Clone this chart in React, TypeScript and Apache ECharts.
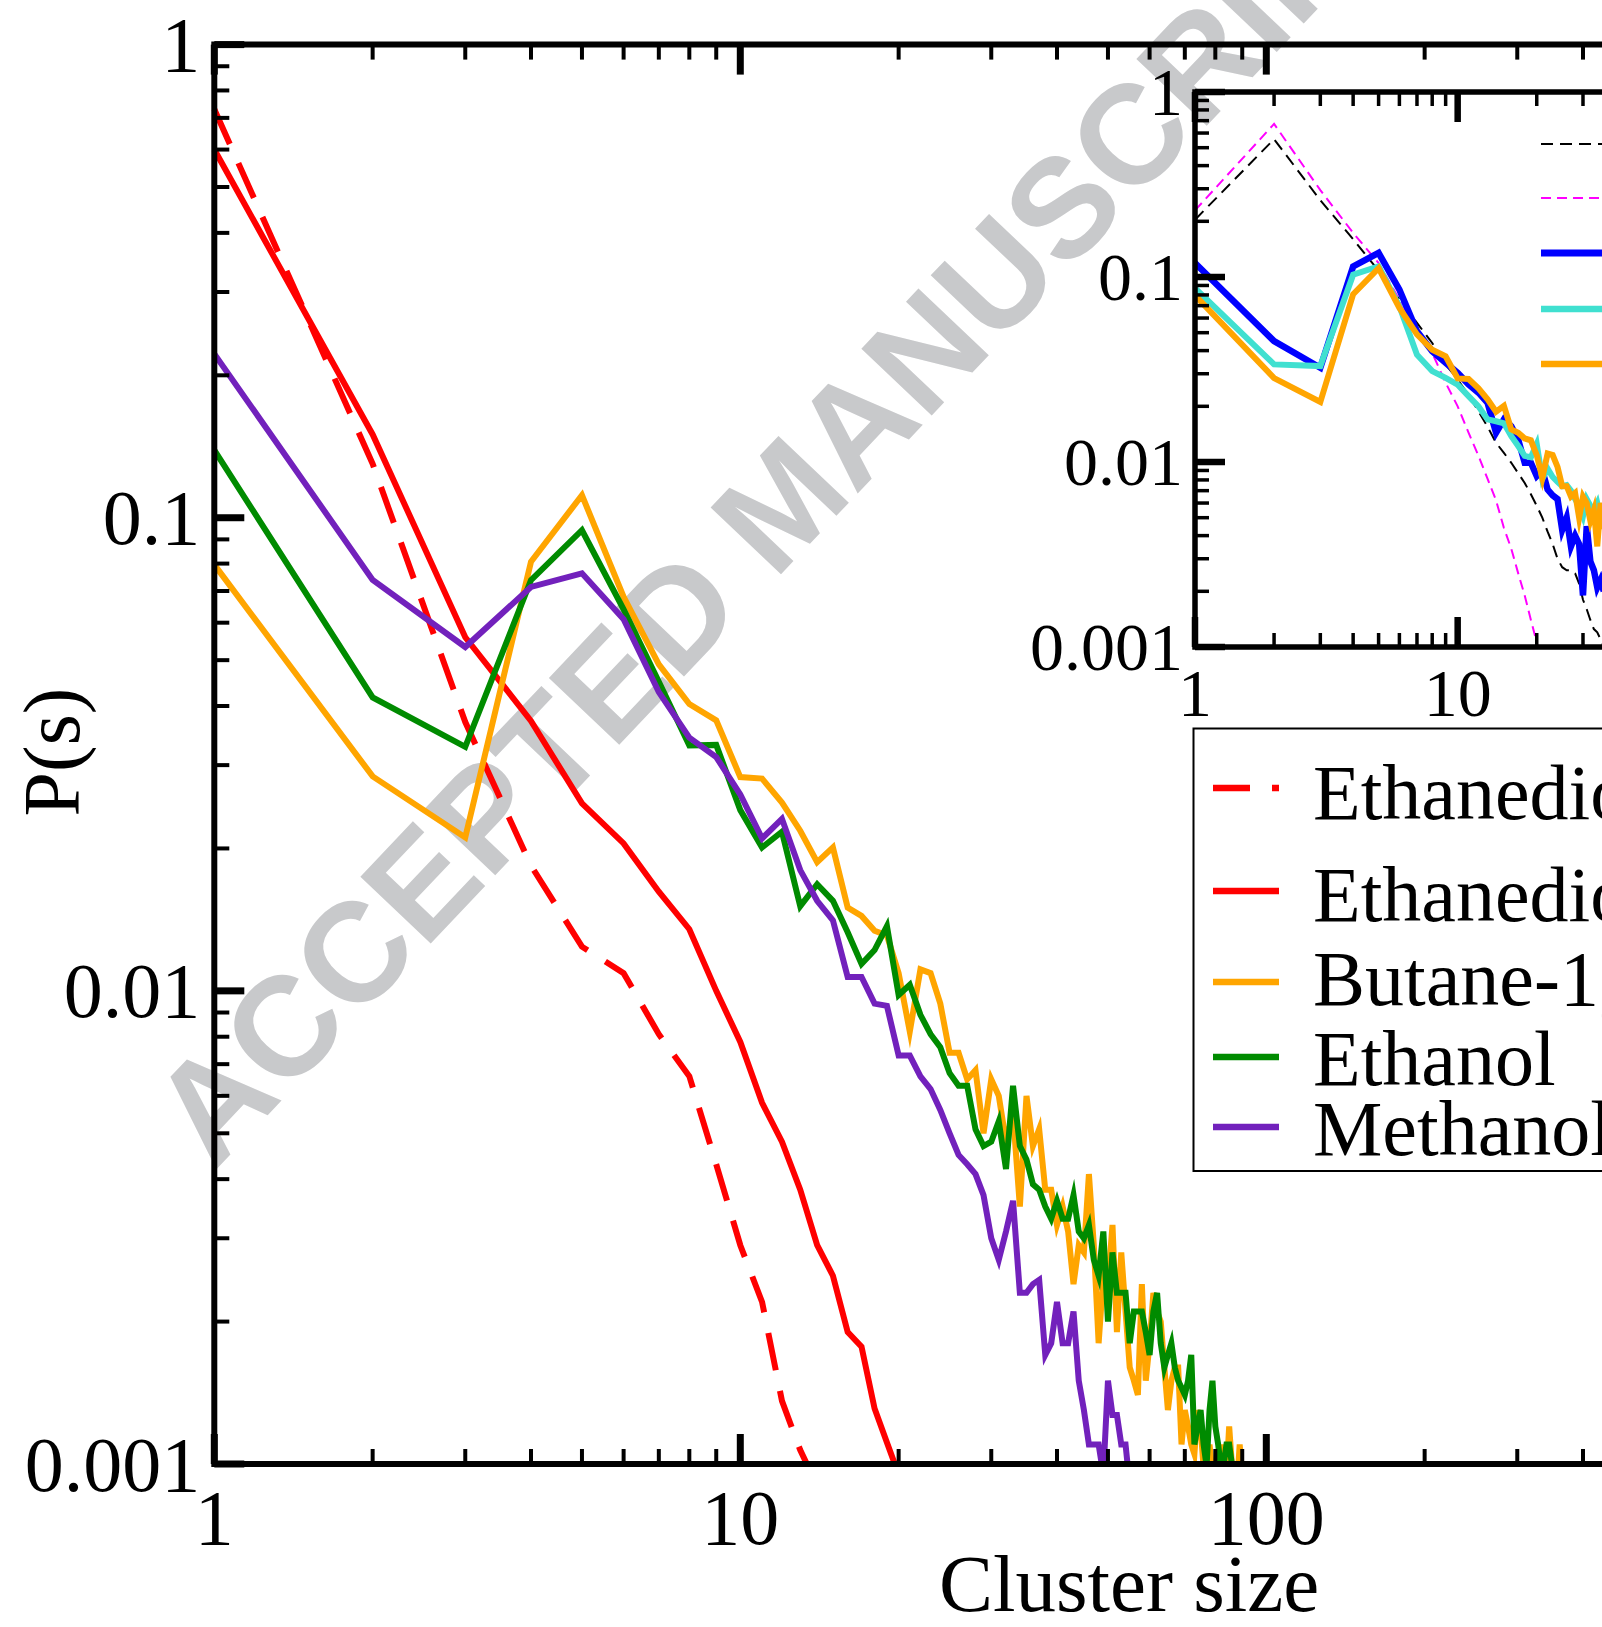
import React, { useEffect, useRef } from 'react';
import * as echarts from 'echarts';

// ---------- data (cluster size n = index + 1) ----------
const ethanediolDashed = [0.73, 0.13, 0.037, 0.0184, 0.0124, 0.0109, 0.0081, 0.0066, 0.0043, 0.0029, 0.0022, 0.00136, 0.00107, 0.0009];
const ethanediolSolid = [0.6, 0.15, 0.0559, 0.0372, 0.0249, 0.0205, 0.0162, 0.0135, 0.01, 0.0078, 0.0058, 0.0048, 0.0038, 0.0029, 0.0025, 0.0019, 0.00177, 0.00131, 0.00111, 0.00095, 0.0008];
const butanediol = [
  0.0796, 0.0284, 0.0211, 0.0807, 0.1116, 0.068, 0.049, 0.0404, 0.0373, 0.0283,
  0.0281, 0.025, 0.0218, 0.0187, 0.0201, 0.015, 0.0144, 0.0134, 0.0131, 0.0109,
  0.0082, 0.0111, 0.0109, 0.0094, 0.0074, 0.0074, 0.0065, 0.0068, 0.005, 0.0065,
  0.006, 0.0048, 0.0055, 0.0035, 0.006, 0.0047, 0.0051, 0.0038, 0.0038, 0.0032,
  0.0035, 0.0031, 0.0024, 0.0029, 0.0028, 0.0041, 0.0029, 0.0018, 0.0025, 0.0024,
  0.0032, 0.0019, 0.0028, 0.0021, 0.0016, 0.0015, 0.0014, 0.0024, 0.0015, 0.0018,
  0.0023, 0.0021, 0.002, 0.0016, 0.0013, 0.0015, 0.0016, 0.0016, 0.0011, 0.0013,
  0.0012, 0.0011, 0.00105, 0.0013, 0.0012, 0.00098, 0.0009, 0.0011, 0.00095, 0.00102,
  0.0009, 0.00085, 0.0011, 0.00095, 0.0012, 0.001, 0.00085, 0.0009, 0.0011, 0.00095, 0.0008,
];
const ethanol = [
  0.139, 0.0417, 0.0328, 0.0738, 0.0941, 0.064, 0.045, 0.033, 0.0331, 0.0241,
  0.0201, 0.0217, 0.0151, 0.0168, 0.0155, 0.0133, 0.0114, 0.0122, 0.0137, 0.0098,
  0.0103, 0.0089, 0.0081, 0.0076, 0.0067, 0.0063, 0.0063, 0.0051, 0.0047, 0.0048,
  0.0053, 0.0042, 0.0063, 0.0047, 0.0044, 0.0039, 0.0038, 0.0035, 0.0033, 0.0036,
  0.0033, 0.0033, 0.0037, 0.0031, 0.003, 0.0032, 0.0027, 0.0025, 0.0031, 0.002,
  0.0028, 0.0023, 0.0023, 0.0023, 0.0018, 0.0021, 0.0021, 0.0021, 0.0019, 0.0017,
  0.0021, 0.0023, 0.0018, 0.0016, 0.0017, 0.0018, 0.0016, 0.0015, 0.00145, 0.0014,
  0.0015, 0.0017, 0.0011, 0.0012, 0.0013, 0.0011, 0.00099, 0.0013, 0.0015, 0.0012,
  0.0011, 0.00098, 0.001, 0.0011, 0.0011, 0.001, 0.0009, 0.00085,
];
const methanol = [
  0.222, 0.0739, 0.0533, 0.0714, 0.0763, 0.061, 0.0428, 0.0343, 0.0312, 0.026,
  0.021, 0.0231, 0.018, 0.0155, 0.0141, 0.0107, 0.0107, 0.0094, 0.0093, 0.0073,
  0.0073, 0.0066, 0.0062, 0.0056, 0.005, 0.0045, 0.0043, 0.0041, 0.0037, 0.003,
  0.0027, 0.0031, 0.0036, 0.0023, 0.0023, 0.0024, 0.00245, 0.0017, 0.0018, 0.0022,
  0.0018, 0.0018, 0.0021, 0.0015, 0.0013, 0.0011, 0.0011, 0.0011, 0.00095, 0.0015,
  0.00127, 0.00127, 0.0011, 0.0011, 0.0009,
];

// inset
const insetBlack = [0.204, 0.556, 0.26, 0.16, 0.108, 0.0755, 0.0565, 0.044, 0.0337, 0.0279, 0.023, 0.0188, 0.0155, 0.0127, 0.0112, 0.0099, 0.0087, 0.0077, 0.0067, 0.0058, 0.005, 0.0042, 0.0036, 0.003, 0.0027, 0.0026, 0.0026, 0.0025, 0.0022, 0.0018, 0.0016, 0.0014, 0.00125, 0.0012, 0.0011, 0.001];
const insetMagenta = [0.229, 0.672, 0.295, 0.173, 0.119, 0.0755, 0.0509, 0.0389, 0.0268, 0.02, 0.0144, 0.0108, 0.0081, 0.0062, 0.0044, 0.0034, 0.0025, 0.0019, 0.0014, 0.00106, 0.0008];
const insetBlue = [0.119, 0.045, 0.0323, 0.114, 0.135, 0.0855, 0.0509, 0.0397, 0.0344, 0.0303, 0.0263, 0.0237, 0.0209, 0.0144, 0.017, 0.0156, 0.0132, 0.0099, 0.0099, 0.0084, 0.009, 0.0071, 0.0066, 0.0063, 0.0043, 0.005, 0.0035, 0.004, 0.0036, 0.0019, 0.0045, 0.0029, 0.0026, 0.0021, 0.0023, 0.002];
const insetTurquoise = [0.087, 0.0337, 0.033, 0.103, 0.114, 0.0695, 0.038, 0.031, 0.0285, 0.0262, 0.0227, 0.02, 0.017, 0.0166, 0.0162, 0.0138, 0.0122, 0.0108, 0.0106, 0.0125, 0.0081, 0.0092, 0.0083, 0.0078, 0.0074, 0.0075, 0.007, 0.0063, 0.0058, 0.0051, 0.0063, 0.0058, 0.0055, 0.006, 0.005, 0.0052];

// ticks
const xMajor = [1, 10, 100, 1000];
const xMinor = [2, 3, 4, 5, 6, 7, 8, 9, 20, 30, 40, 50, 60, 70, 80, 90, 200, 300, 400, 500, 600, 700, 800, 900];
const yMajor = [0.001, 0.01, 0.1, 1];
const yMinor = [0.002, 0.003, 0.004, 0.005, 0.006, 0.007, 0.008, 0.009, 0.02, 0.03, 0.04, 0.05, 0.06, 0.07, 0.08, 0.09, 0.2, 0.3, 0.4, 0.5, 0.6, 0.7, 0.8, 0.9];

const legendLabels = ['Ethanediol', 'Ethanediol', 'Butane-1,4-diol', 'Ethanol', 'Methanol'];
const legendColors = ['#ff0000', '#ff0000', '#ffa500', '#008b00', '#7221bc'];

const FONT = "'Liberation Serif', 'Times New Roman', Times, serif";

const toPairs = (vals: number[]) => vals.map((v, i) => [i + 1, v]);

function tickSeries(gi: number, dir: 'x' | 'y', vals: number[], len: number, lw: number) {
  const xMin = 1, xMax = 1000, yMin = 0.001, yMax = 1;
  return {
    type: 'custom',
    xAxisIndex: gi,
    yAxisIndex: gi,
    silent: true,
    clip: false,
    z: 6,
    data: vals.map((v) => (dir === 'x' ? [v, yMin] : [xMin, v])),
    renderItem: (params: any, api: any) => {
      const v = vals[params.dataIndex];
      const st = { stroke: '#000', lineWidth: lw };
      if (dir === 'x') {
        const b = api.coord([v, yMin]);
        const t = api.coord([v, yMax]);
        return {
          type: 'group',
          children: [
            { type: 'line', shape: { x1: b[0], y1: b[1], x2: b[0], y2: b[1] - len }, style: st },
            { type: 'line', shape: { x1: t[0], y1: t[1], x2: t[0], y2: t[1] + len }, style: st },
          ],
        };
      }
      const l = api.coord([xMin, v]);
      const r = api.coord([xMax, v]);
      return {
        type: 'group',
        children: [
          { type: 'line', shape: { x1: l[0], y1: l[1], x2: l[0] + len, y2: l[1] }, style: st },
          { type: 'line', shape: { x1: r[0], y1: r[1], x2: r[0] - len, y2: r[1] }, style: st },
        ],
      };
    },
  };
}

function lineSeries(gi: number, vals: number[], color: string, width: number, dash?: number[]) {
  return {
    type: 'line',
    xAxisIndex: gi,
    yAxisIndex: gi,
    data: toPairs(vals),
    showSymbol: false,
    symbol: 'none',
    z: 3,
    lineStyle: { color, width, type: dash ? dash : 'solid', join: 'miter', miterLimit: 6, cap: 'butt' },
  };
}

const CHART_W = 2100;
const CHART_H = 1627;

export default function App() {
  const ref = useRef<HTMLDivElement>(null);

  useEffect(() => {
    if (!ref.current) return;
    const chart = echarts.init(ref.current, undefined, { renderer: 'svg' });

    const axisCommon = {
      type: 'log',
      logBase: 10,
      axisLine: { show: false },
      axisTick: { show: false },
      splitLine: { show: false },
    };

    const legendYs = [788, 891, 982, 1057, 1127];
    const legendTextYs = [792, 894, 978, 1058, 1128];

    const graphic: any[] = [
      {
        type: 'text',
        x: 782,
        y: 502,
        rotation: (46.5 * Math.PI) / 180,
        z: -100,
        silent: true,
        style: {
          text: 'ACCEPTED MANUSCRIPT',
          fontSize: 141,
          fontWeight: 'bold',
          fontFamily: "'Liberation Sans', Arial, sans-serif",
          fill: '#c8c9cb',
          align: 'center',
          verticalAlign: 'middle',
        },
      },
      {
        type: 'text',
        x: 1129,
        y: 1584,
        style: { text: 'Cluster size', fontSize: 81, fontFamily: FONT, fill: '#000', align: 'center', verticalAlign: 'middle' },
      },
      {
        type: 'text',
        x: 52,
        y: 752,
        rotation: Math.PI / 2,
        style: { text: 'P(s)', fontSize: 80, fontFamily: FONT, fill: '#000', align: 'center', verticalAlign: 'middle' },
      },
      {
        type: 'rect',
        shape: { x: 1193.5, y: 728.5, width: 700, height: 442.5 },
        style: { fill: 'none', stroke: '#000', lineWidth: 2 },
        z: 10,
      },
    ];
    legendLabels.forEach((label, i) => {
      graphic.push({
        type: 'line',
        z: 10,
        shape: { x1: 1213, y1: legendYs[i], x2: 1279, y2: legendYs[i] },
        style: { stroke: legendColors[i], lineWidth: 6.5, lineDash: i === 0 ? [37, 22] : null },
      });
      graphic.push({
        type: 'text',
        z: 10,
        x: 1313,
        y: legendTextYs[i],
        style: { text: label, fontSize: 78, fontFamily: FONT, fill: '#000', align: 'left', verticalAlign: 'middle' },
      });
    });
    const insetLegend = [
      { y: 144, color: '#000000', w: 2, dash: [12, 7] },
      { y: 198, color: '#ff00ff', w: 2, dash: [10, 6] },
      { y: 253, color: '#0000ff', w: 7, dash: null },
      { y: 309, color: '#40e0d0', w: 6.5, dash: null },
      { y: 364, color: '#ffa500', w: 6.5, dash: null },
    ];
    insetLegend.forEach((s) => {
      graphic.push({
        type: 'line',
        z: 10,
        shape: { x1: 1541, y1: s.y, x2: 1640, y2: s.y },
        style: { stroke: s.color, lineWidth: s.w, lineDash: s.dash },
      });
    });

    chart.setOption({
      animation: false,
      backgroundColor: '#ffffff',
      grid: [
        { left: 214.3, top: 44.6, width: 1578, height: 1419.4, show: true, borderWidth: 6, borderColor: '#000', backgroundColor: 'transparent', z: 5 },
        { left: 1195, top: 92, width: 788, height: 555, show: true, borderWidth: 5.5, borderColor: '#000', backgroundColor: 'transparent', z: 5 },
      ],
      xAxis: [
        { ...axisCommon, gridIndex: 0, min: 1, max: 1000, axisLabel: { fontSize: 78, fontFamily: FONT, color: '#000', margin: 14 } },
        { ...axisCommon, gridIndex: 1, min: 1, max: 1000, axisLabel: { fontSize: 68, fontFamily: FONT, color: '#000', margin: 12 } },
      ],
      yAxis: [
        { ...axisCommon, gridIndex: 0, min: 0.001, max: 1, axisLabel: { fontSize: 78, fontFamily: FONT, color: '#000', margin: 14 } },
        { ...axisCommon, gridIndex: 1, min: 0.001, max: 1, axisLabel: { fontSize: 68, fontFamily: FONT, color: '#000', margin: 12 } },
      ],
      graphic,
      series: [
        lineSeries(0, ethanediolDashed, '#ff0000', 6, [38, 21]),
        lineSeries(0, ethanediolSolid, '#ff0000', 6),
        lineSeries(0, butanediol, '#ffa500', 6),
        lineSeries(0, ethanol, '#008b00', 6),
        lineSeries(0, methanol, '#7221bc', 6),
        lineSeries(1, insetBlack, '#000000', 2, [12, 7]),
        lineSeries(1, insetMagenta, '#ff00ff', 2, [10, 6]),
        lineSeries(1, insetBlue, '#0000ff', 6.5),
        lineSeries(1, insetTurquoise, '#40e0d0', 6),
        lineSeries(1, butanediol, '#ffa500', 6),
        tickSeries(0, 'x', xMajor, 30, 7),
        tickSeries(0, 'x', xMinor, 15, 4),
        tickSeries(0, 'y', yMajor, 30, 7),
        tickSeries(0, 'y', yMinor, 15, 4),
        tickSeries(1, 'x', xMajor, 30, 6.5),
        tickSeries(1, 'x', xMinor, 14, 3.5),
        tickSeries(1, 'y', yMajor, 30, 6.5),
        tickSeries(1, 'y', yMinor, 14, 3.5),
      ],
    } as any);

    return () => chart.dispose();
  }, []);

  return (
    <div
      style={{ position: 'fixed', left: 0, top: 0, width: 1602, height: 1627, overflow: 'hidden', background: '#fff' }}
    >
      <div ref={ref} style={{ width: CHART_W, height: CHART_H }} />
    </div>
  );
}
